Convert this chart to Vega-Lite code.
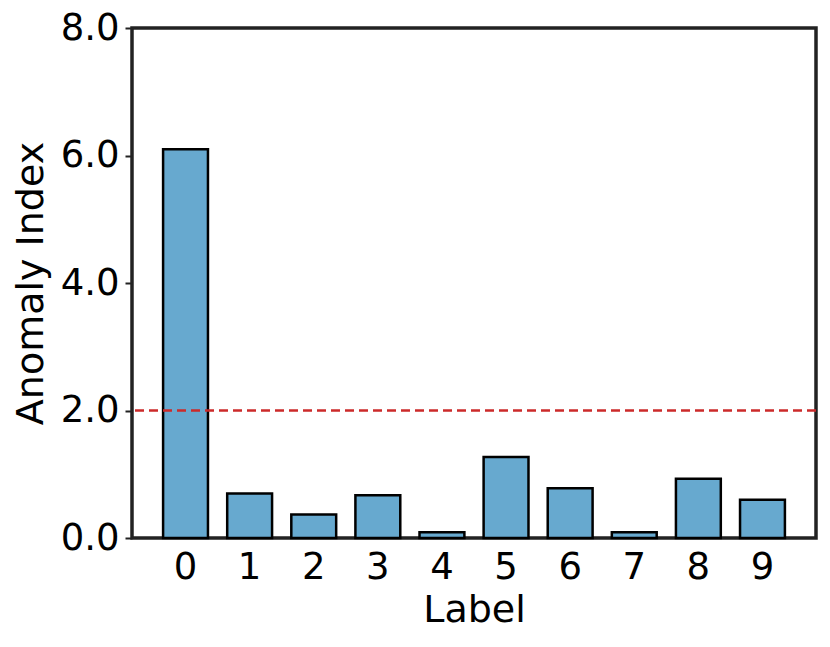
{
  "$schema": "https://vega.github.io/schema/vega-lite/v6.json",
  "width": 684,
  "height": 510,
  "autosize": {"type": "none"},
  "padding": {"left": 132, "top": 28, "right": 14, "bottom": 109},
  "background": "white",
  "config": {
    "font": "DejaVu Sans",
    "view": {"stroke": "#222222", "strokeWidth": 3.5},
    "axis": {"grid": false, "domain": false, "labelFont": "DejaVu Sans", "titleFont": "DejaVu Sans", "labelFontSize": 37, "titleFontSize": 38, "titleFontWeight": "normal", "labelColor": "black", "titleColor": "black", "tickColor": "#222222", "tickWidth": 2}
  },
  "data": {
    "values": [
      {"label": "0", "value": 6.1},
      {"label": "1", "value": 0.7},
      {"label": "2", "value": 0.37},
      {"label": "3", "value": 0.67},
      {"label": "4", "value": 0.09},
      {"label": "5", "value": 1.27},
      {"label": "6", "value": 0.78},
      {"label": "7", "value": 0.09},
      {"label": "8", "value": 0.93},
      {"label": "9", "value": 0.6}
    ]
  },
  "layer": [
    {
      "mark": {"type": "bar", "color": "#67a9cf", "stroke": "black", "strokeWidth": 2.5},
      "encoding": {
        "x": {"field": "label", "type": "ordinal", "title": "Label",
              "scale": {"paddingInner": 0.3, "paddingOuter": 0.485},
              "axis": {"labelAngle": 0, "tickSize": 0, "labelPadding": 11, "titlePadding": 6}},
        "y": {"field": "value", "type": "quantitative", "title": "Anomaly Index",
              "scale": {"domain": [0, 8], "nice": false},
              "axis": {"values": [0, 2, 4, 6, 8], "format": ".1f", "tickSize": 7, "labelPadding": 6, "titlePadding": 10}}
      }
    },
    {
      "data": {"values": [{"threshold": 2}]},
      "mark": {"type": "rule", "color": "#cc2a2a", "strokeWidth": 2.5, "strokeDash": [9, 5]},
      "encoding": {"y": {"field": "threshold", "type": "quantitative"}}
    }
  ]
}
